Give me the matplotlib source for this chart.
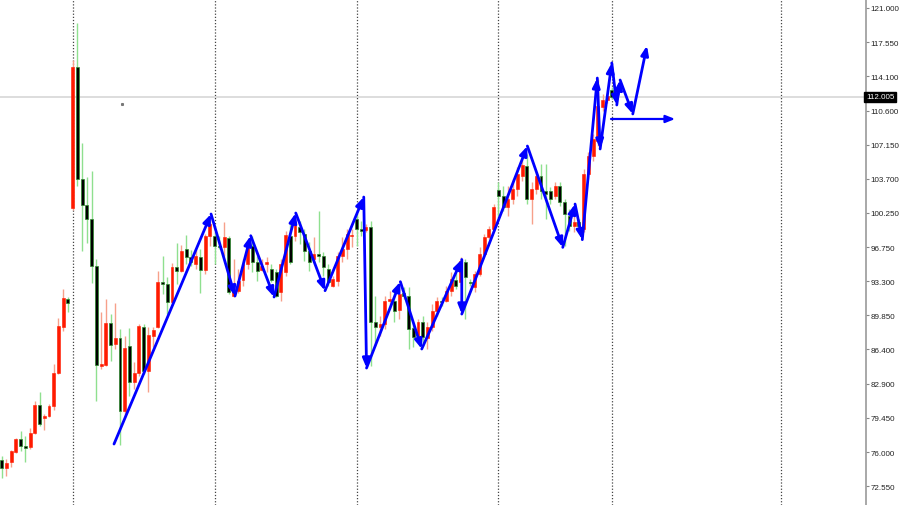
import matplotlib
matplotlib.use("Agg")
import matplotlib.pyplot as plt
from matplotlib.patches import Rectangle

# ---------------- data ----------------
opens = [75.19, 74.37, 74.98, 76.00, 77.31, 76.60, 76.50, 77.92, 80.76, 79.44,
         79.65, 80.66, 84.00, 88.67, 91.50, 100.73, 115.02, 103.67, 101.03, 99.61,
         94.85, 84.71, 84.81, 89.07, 86.94, 87.55, 80.15, 86.74, 83.09, 84.00,
         88.67, 84.21, 87.75, 88.67, 93.23, 93.02, 91.20, 94.75, 94.34, 96.57,
         95.76, 95.05, 95.76, 94.44, 97.89, 97.89, 96.88, 96.78, 97.69, 91.81,
         92.32, 93.43, 95.05, 96.88, 95.25, 94.44, 95.05, 94.55, 94.24, 92.21,
         94.24, 97.89, 97.89, 98.80, 98.09, 96.37, 95.56, 96.07, 95.86, 94.55,
         92.82, 93.33, 95.86, 96.57, 97.89, 99.61, 98.60, 98.50, 98.80, 89.17,
         88.67, 88.97, 91.30, 91.30, 90.39, 92.11, 91.81, 88.56, 87.65, 89.17,
         87.55, 88.67, 90.29, 91.30, 91.30, 92.32, 93.43, 93.23, 95.25, 93.23,
         92.72, 94.04, 96.07, 97.79, 98.60, 102.55, 101.94, 100.83, 101.64, 102.65,
         103.97, 104.99, 101.64, 102.65, 103.97, 102.45, 102.45, 101.94, 102.96, 101.34,
         99.92, 98.90, 99.31, 98.60, 104.17, 106.00, 107.52, 110.97, 111.67, 112.69]
highs = [75.59, 75.29, 76.20, 77.42, 78.12, 77.62, 78.43, 81.17, 82.08, 79.85,
         80.86, 84.92, 89.58, 92.52, 91.71, 115.73, 119.48, 107.32, 103.87, 104.48,
         95.56, 90.19, 91.50, 89.98, 91.10, 88.46, 87.75, 88.56, 85.12, 88.97,
         88.97, 88.67, 88.67, 94.34, 95.86, 93.73, 95.15, 97.18, 96.98, 97.99,
         96.47, 96.57, 96.57, 98.09, 99.41, 98.29, 97.89, 99.31, 97.89, 95.56,
         94.55, 95.56, 97.59, 97.89, 95.86, 95.56, 95.76, 95.05, 94.55, 95.56,
         98.40, 99.11, 99.82, 99.41, 98.60, 97.28, 97.79, 100.42, 96.27, 95.05,
         93.84, 96.27, 97.79, 98.60, 98.60, 100.12, 99.41, 99.11, 99.41, 91.81,
         89.78, 91.81, 92.32, 92.21, 92.52, 92.72, 92.72, 89.17, 89.48, 89.78,
         89.17, 91.00, 91.71, 91.71, 92.82, 94.24, 94.34, 95.76, 95.56, 93.53,
         94.34, 96.78, 98.09, 98.90, 101.13, 103.36, 102.96, 102.96, 103.67, 104.88,
         105.69, 106.20, 103.36, 104.38, 105.19, 105.19, 102.86, 103.36, 103.36, 101.64,
         100.63, 99.92, 99.61, 104.68, 106.40, 108.23, 113.80, 112.28, 112.38, 112.99]
lows = [73.36, 73.56, 74.48, 75.90, 76.10, 74.98, 76.30, 77.82, 78.63, 78.23,
        79.54, 80.25, 83.90, 88.26, 90.19, 100.53, 102.96, 96.37, 97.18, 93.13,
        81.17, 84.41, 84.71, 85.22, 86.44, 76.71, 79.54, 81.67, 82.38, 83.70,
        83.90, 82.08, 86.64, 88.56, 92.01, 89.98, 91.00, 93.02, 94.24, 95.05,
        94.85, 94.55, 92.11, 94.04, 96.88, 95.05, 96.57, 95.86, 92.01, 91.71,
        92.11, 92.82, 94.55, 94.24, 93.33, 94.34, 94.24, 93.23, 91.71, 91.30,
        93.84, 95.05, 97.38, 97.08, 95.36, 94.34, 95.25, 95.25, 93.84, 92.82,
        92.72, 92.82, 95.25, 95.56, 96.78, 96.88, 97.89, 98.29, 84.71, 86.74,
        87.75, 88.46, 90.49, 89.17, 89.48, 91.50, 86.44, 86.64, 87.15, 86.74,
        86.44, 88.26, 89.78, 90.79, 91.20, 91.81, 92.52, 92.82, 89.48, 92.82,
        92.21, 93.84, 95.86, 97.59, 98.40, 99.92, 100.42, 99.92, 101.13, 101.94,
        103.46, 101.13, 99.11, 102.15, 101.64, 99.61, 101.13, 101.64, 100.93, 96.88,
        98.40, 98.29, 98.60, 98.29, 103.67, 105.49, 107.01, 110.56, 111.37, 111.78]
closes = [74.37, 74.88, 76.10, 77.31, 76.60, 76.45, 77.92, 80.76, 78.83, 79.65,
          80.66, 84.00, 88.77, 91.61, 91.10, 115.02, 103.67, 101.03, 99.61, 94.85,
          84.81, 84.92, 89.07, 86.84, 87.55, 80.15, 86.54, 83.09, 84.00, 88.77,
          84.21, 87.86, 88.36, 93.23, 93.02, 91.20, 94.75, 94.34, 96.37, 95.76,
          95.25, 95.86, 94.44, 97.89, 99.11, 96.88, 96.78, 97.79, 92.21, 92.32,
          93.33, 95.05, 97.08, 95.25, 94.34, 94.85, 95.25, 93.43, 91.81, 95.05,
          97.99, 95.25, 99.11, 98.29, 96.37, 95.25, 96.07, 95.86, 94.75, 93.23,
          93.53, 95.86, 96.57, 98.09, 97.99, 98.60, 98.40, 98.80, 89.17, 88.67,
          88.97, 91.30, 91.50, 90.29, 92.01, 91.81, 88.46, 87.65, 89.17, 87.65,
          88.67, 90.29, 91.30, 91.20, 92.32, 93.53, 92.82, 95.36, 93.73, 93.13,
          94.04, 96.07, 97.79, 98.60, 100.83, 101.94, 100.83, 101.64, 102.65, 104.17,
          105.09, 101.64, 102.65, 103.97, 102.45, 102.15, 101.64, 102.96, 101.34, 100.12,
          98.90, 99.31, 98.90, 104.17, 106.00, 107.72, 111.07, 111.67, 112.08, 112.005]

# blue wave path: (bar index, price)
wave_x = [23.74, 44.25, 49.32, 52.64, 57.57, 62.16, 68.35, 76.53, 77.12, 84.27,
          88.79, 97.25, 97.25, 111.12, 118.60, 121.20, 122.73, 125.90, 126.50, 128.96,
          130.02, 130.72, 133.40, 136.40]
wave_y = [76.81, 100.12, 91.81, 97.92, 91.71, 100.22, 92.35, 101.84, 84.51, 93.26,
          86.44, 95.51, 89.98, 107.01, 96.74, 101.13, 97.52, 113.90, 106.71, 115.43,
          111.17, 113.70, 110.26, 117.18]
target_x = [128.8, 142.35]
target_y = [109.75, 109.75]

separators = [15, 45, 75, 105, 129, 164.7]
price_ticks = [121.000, 117.550, 114.100, 110.600, 107.150, 103.700, 100.250,
               96.750, 93.300, 89.850, 86.400, 82.900, 79.450, 76.000, 72.550]
last_price = 112.005

# ---------------- figure ----------------
fig = plt.figure(figsize=(9.0, 5.06), dpi=100)
ax = fig.add_axes([0, 0, 866 / 900, 1])
ax.set_facecolor("white")

ax.set_xlim(-0.36, 182.7)
ax.set_ylim(70.63, 121.91)

for s in separators:
    ax.axvline(s, color="#444444", lw=0.9, ls=(0, (1, 1.5)), zorder=1)

ax.axhline(last_price, color="#dddddd", lw=1.4, zorder=1)

bw = 0.62
for i, (o, h, l, c) in enumerate(zip(opens, highs, lows, closes)):
    up = c >= o
    wick_col = "#f7a08a" if up else "#8fe08f"
    ax.plot([i, i], [l, h], color=wick_col, lw=1.0, zorder=2, solid_capstyle="butt")
    bottom = min(o, c)
    height = max(abs(c - o), 0.12)
    if up:
        rect = Rectangle((i - bw / 2, bottom), bw, height, facecolor="#ff1a00",
                         edgecolor="#ff1a00", lw=0.4, zorder=3)
    else:
        rect = Rectangle((i - bw / 2, bottom), bw, height, facecolor="#000000",
                         edgecolor="#2e8b2e", lw=0.5, zorder=3)
    ax.add_patch(rect)

# small mark
ax.plot([25.43], [111.27], marker="s", ms=1.2, color="#777777", zorder=2)

head = "-|>,head_length=0.55,head_width=0.22"
for k in range(1, len(wave_x)):
    ax.annotate("", xy=(wave_x[k], wave_y[k]), xytext=(wave_x[k - 1], wave_y[k - 1]),
                arrowprops=dict(arrowstyle=head, color="#0000ff", lw=2.0,
                                shrinkA=0, shrinkB=0, mutation_scale=10), zorder=5)
ax.annotate("", xy=(target_x[1], target_y[1]), xytext=(target_x[0], target_y[0]),
            arrowprops=dict(arrowstyle=head, color="#0000ff", lw=1.6,
                            shrinkA=0, shrinkB=0, mutation_scale=10), zorder=5)

# axes styling
for side in ["top", "left", "bottom"]:
    ax.spines[side].set_visible(False)
ax.spines["right"].set_color("#999999")
ax.spines["right"].set_linewidth(1.2)
ax.set_xticks([])
ax.yaxis.tick_right()
ax.set_yticks(price_ticks)
ax.set_yticklabels([f"{t:.3f}" for t in price_ticks])
ax.tick_params(axis="y", direction="out", length=2, width=0.8, color="#888888",
               labelsize=5.8, labelcolor="#222222", pad=1.0)
for lab in ax.get_yticklabels():
    lab.set_fontfamily("Liberation Sans")

ax.text(1.0, last_price, f"{last_price:.3f}", transform=ax.get_yaxis_transform(),
        ha="left", va="center", fontsize=5.8, color="white", clip_on=False,
        family="Liberation Sans",
        bbox=dict(boxstyle="square,pad=0.2", facecolor="black", edgecolor="black"),
        zorder=10)

fig.savefig("out.png", dpi=100, facecolor="white")
